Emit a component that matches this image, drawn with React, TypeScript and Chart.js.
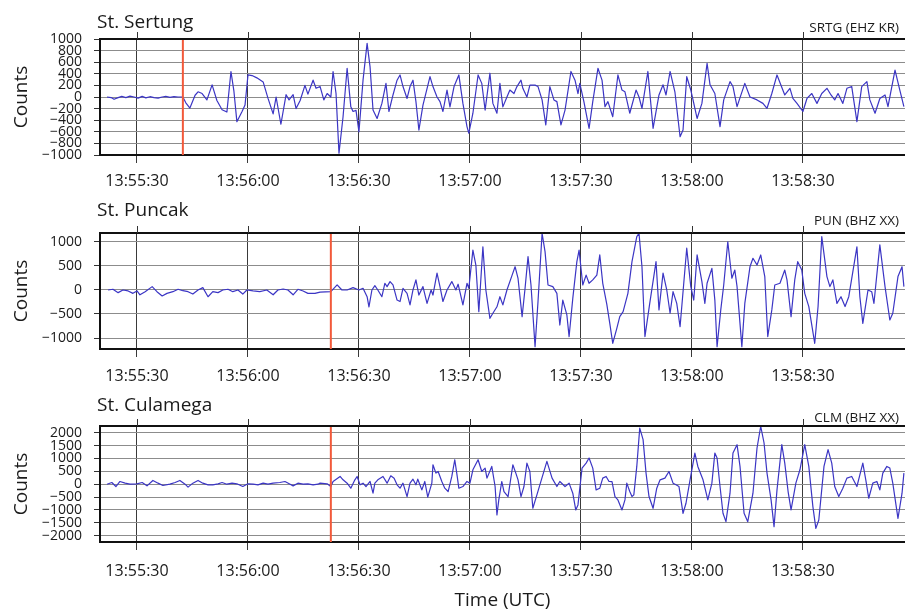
import React, { useEffect, useRef } from "react";
import { Chart, registerables } from "chart.js";

Chart.register(...registerables);

// ---- shared axis data (time in seconds after 13:55:00 UTC) ----
const X_MIN = 20;
const X_MAX = 237.6;
const X_TICKS = [30, 60, 90, 120, 150, 180, 210];
const X_TICK_LABELS = ["13:55:30", "13:56:00", "13:56:30", "13:57:00", "13:57:30", "13:58:00", "13:58:30"];

const STATIONS = ["St. Sertung", "St. Puncak", "St. Culamega"];
const CHANNELS = ["SRTG (EHZ KR)", "PUN (BHZ XX)", "CLM (BHZ XX)"];
const ARRIVALS = [42.4, 82.4, 82.4];
const Y_MIN = [-1000, -1229, -2245];
const Y_MAX = [1000, 1187, 2260];
const SRTG_Y_TICKS = [1000, 800, 600, 400, 200, 0, -200, -400, -600, -800, -1000];
const PUN_Y_TICKS = [1000, 500, 0, -500, -1000];
const CLM_Y_TICKS = [2000, 1500, 1000, 500, 0, -500, -1000, -1500, -2000];

// ---- St. Sertung ----
const SRTG_T = [21.9, 23.0, 23.8, 24.9, 25.9, 27.0, 28.1, 29.2, 30.3, 31.4, 32.4, 33.5, 34.6, 35.7, 36.8, 37.8, 38.9, 40.0, 41.1, 42.4,
  43.2, 44.3, 45.7, 46.5, 47.6, 48.9, 50.3, 51.6, 53.0, 54.3, 55.4, 56.2, 57.0, 58.4, 59.2, 60.0, 61.1, 62.4, 64.1, 65.4,
  66.8, 67.6, 68.9, 70.3, 71.1, 72.2, 73.0, 74.1, 75.4, 76.2, 77.6, 78.4, 79.5, 80.5, 81.4, 82.4, 83.0, 83.8, 84.6, 85.7,
  86.8, 87.8, 88.4, 89.2, 90.0, 91.1, 92.2, 93.0, 93.8, 94.9, 96.2, 97.3, 98.1, 99.2, 100.3, 101.1, 101.9, 103.0, 103.8, 104.6,
  105.4, 106.2, 107.3, 109.2, 110.0, 111.1, 111.9, 112.7, 113.8, 114.6, 115.7, 117.0, 118.1, 119.2, 119.7, 120.8, 122.2, 123.2, 124.1, 125.4,
  126.2, 127.3, 128.1, 128.9, 130.0, 130.8, 131.9, 132.7, 133.8, 134.3, 135.4, 136.2, 137.6, 138.4, 139.5, 140.5, 141.6, 142.7, 143.5, 144.6,
  145.7, 147.3, 148.4, 149.2, 149.7, 150.8, 152.2, 153.2, 154.6, 155.7, 156.5, 157.3, 158.6, 160.0, 161.1, 161.9, 163.2, 164.9, 165.7, 166.5,
  168.1, 169.5, 171.1, 172.2, 173.0, 174.1, 175.4, 176.8, 177.6, 178.6, 179.7, 180.3, 181.4, 182.7, 184.1, 184.9, 186.2, 187.6, 188.6, 190.3,
  191.1, 192.2, 194.3, 195.7, 197.6, 199.2, 200.3, 201.6, 203.0, 205.1, 206.5, 207.3, 208.4, 210.0, 211.1, 212.4, 213.8, 215.1, 216.5, 217.6,
  218.6, 219.5, 220.8, 221.9, 223.2, 224.6, 225.9, 227.3, 228.1, 229.5, 230.8, 232.2, 233.0, 234.9, 236.2, 237.3];
const SRTG_V = [0, -10, -40, -10, 10, -10, 15, 0, -20, 10, -15, 5, -10, -20, 0, 10, -5, 5, 0, 0,
  -100, -190, 30, 90, 60, -50, 210, -60, -220, -260, 440, 100, -425, -250, -140, 380, 370, 330, 260, -20,
  -290, 0, -470, 40, -50, 40, -200, -60, 200, 50, 290, 150, 180, -50, 60, 0, 440, 60, -970, -340,
  495, -170, -250, -230, -600, 290, 925, 520, -225, -370, -110, 235, -250, 35, 290, 380, 180, -25, 180, 290,
  -80, -570, -140, 350, 180, 0, -80, -250, 120, -170, 180, 380, -110, -510, -625, -280, 380, 235, -225, 410,
  -110, -280, 235, -170, 0, 120, 60, 180, 290, 150, 0, 205, 205, 180, -50, -480, 180, -50, -80, -480,
  -225, 440, 290, 60, 235, -80, -540, -80, 495, 290, -165, -80, -340, 380, 120, 90, -280, 120, 0, -195,
  440, -540, 35, 210, 35, 440, 90, -685, -570, 350, 120, -50, -370, -110, 580, 210, 60, -510, -50, 265,
  180, -165, 235, 0, -50, -110, -195, 60, 380, 35, 150, -25, -110, -250, -25, 60, -110, 60, 150, 35,
  -50, 60, -110, 150, 180, -425, 180, 265, -50, -280, -25, 35, -165, 465, 120, -165];

// ---- St. Puncak ----
const PUN_T = [22.2, 23.5, 24.9, 26.2, 27.6, 28.9, 30.0, 30.8, 32.2, 34.1, 35.4, 36.8, 38.1, 39.7, 41.1, 42.4, 43.8, 45.1, 46.5, 47.8,
  49.2, 50.5, 51.9, 53.2, 54.6, 55.9, 57.3, 58.6, 59.7, 61.4, 63.2, 65.1, 66.8, 68.1, 69.5, 70.8, 72.2, 73.5, 74.9, 76.2,
  78.1, 79.5, 82.4, 84.1, 85.4, 86.8, 88.4, 90.0, 91.1, 92.2, 92.7, 93.5, 94.3, 95.1, 96.2, 97.0, 97.6, 98.4, 99.2, 100.3,
  101.1, 101.9, 103.0, 103.8, 104.6, 105.4, 106.2, 107.3, 108.4, 109.5, 110.0, 111.1, 111.9, 112.7, 113.8, 115.1, 116.2, 116.8, 118.1, 119.2,
  119.7, 120.8, 121.6, 122.4, 123.5, 124.3, 125.4, 126.2, 127.3, 128.1, 128.9, 130.0, 131.4, 132.2, 133.0, 134.1, 134.9, 135.7, 136.5, 137.6,
  138.4, 139.5, 140.3, 141.1, 142.4, 143.5, 144.3, 145.1, 146.2, 146.8, 147.8, 148.9, 149.5, 150.5, 151.4, 152.2, 153.2, 154.3, 155.1, 155.9,
  157.0, 157.8, 158.6, 159.7, 160.5, 161.4, 162.7, 163.8, 165.1, 165.7, 166.5, 167.3, 168.6, 170.3, 171.1, 172.2, 173.2, 174.1, 174.9, 175.9,
  176.8, 178.6, 179.7, 180.5, 181.4, 182.7, 183.5, 184.1, 185.4, 186.2, 186.8, 187.8, 188.6, 189.7, 190.8, 191.6, 192.2, 193.5, 194.3, 195.7,
  196.5, 197.6, 198.6, 199.7, 200.5, 201.6, 202.4, 203.8, 205.1, 205.7, 206.8, 207.8, 208.6, 209.7, 210.5, 211.6, 213.2, 214.1, 215.1, 216.5,
  217.3, 218.1, 219.2, 220.3, 221.4, 222.4, 224.6, 225.4, 226.2, 227.6, 228.6, 229.2, 230.8, 232.2, 233.5, 234.3, 235.7, 236.8, 237.3];
const PUN_V = [0, 15, -55, 0, -20, -70, -20, -100, -35, 70, -35, -125, -70, -35, 15, -15, -35, -85, 0, 50,
  -140, -35, -55, 0, 15, -35, 0, -85, 0, -20, -35, 0, -100, 0, 20, 0, -100, 15, -20, -70,
  -70, -45, -35, 105, 0, 0, 50, 0, 35, -140, -350, 0, 90, 0, -140, 140, 70, 175, 105, -210,
  -240, 35, -70, -310, 0, 210, -105, 70, -280, 0, -105, 350, 70, -240, 0, 175, 0, 120, -310, 140,
  35, 830, 520, -450, 900, 0, -590, -485, -350, -140, -310, 0, 310, 485, 240, -555, 35, 695, 105, -1180,
  -240, 1180, 800, 105, 70, -70, -730, -210, -520, -970, -175, 590, 830, 105, 310, 140, 210, 310, 730, 140,
  -300, -695, -1110, -800, -555, -450, -70, 590, 1110, 1180, 485, -970, -280, 590, -415, 350, 0, -485, -35, -280,
  -765, 870, 70, -210, 730, 175, -280, 140, 450, -210, -1180, -415, 105, 1005, 245, 415, 70, -1180, -280, 485,
  660, 520, 730, 280, -970, -415, 105, 140, 415, 210, -555, 210, 590, 415, -70, -345, -1110, -345, 1110, 280,
  70, 210, -280, -140, -345, -140, 900, -140, -695, 0, -35, -280, 940, 70, -625, -485, 280, 485, 70];

// ---- St. Culamega ----
const CLM_T = [21.9, 23.2, 24.3, 25.4, 26.8, 28.1, 30.0, 31.4, 32.7, 34.3, 35.7, 37.0, 38.9, 40.3, 41.6, 43.0, 43.8, 45.1, 46.5, 47.8,
  49.2, 50.5, 51.9, 53.0, 54.3, 55.7, 57.0, 58.6, 60.0, 61.4, 62.7, 64.1, 65.4, 66.8, 68.6, 70.0, 71.4, 72.2, 73.5, 74.9,
  76.2, 77.6, 78.9, 79.5, 81.4, 82.4, 83.0, 84.9, 85.7, 86.8, 87.8, 88.9, 89.5, 90.3, 91.1, 91.9, 93.0, 93.8, 94.3, 95.1,
  96.5, 97.6, 98.6, 99.5, 100.3, 101.1, 101.9, 103.0, 103.8, 104.6, 105.4, 105.9, 107.0, 107.8, 108.6, 109.7, 110.0, 110.8, 111.4, 112.4,
  113.2, 114.1, 115.1, 115.9, 116.5, 117.0, 118.1, 119.2, 120.0, 120.8, 122.2, 123.2, 124.1, 124.6, 125.9, 126.8, 127.3, 127.8, 128.6, 129.2,
  130.3, 131.6, 132.4, 133.0, 133.8, 134.6, 135.4, 136.2, 137.0, 138.1, 138.9, 140.8, 142.2, 143.5, 144.3, 145.7, 146.8, 147.8, 148.6, 149.2,
  150.3, 151.4, 152.2, 153.2, 154.1, 155.1, 155.9, 156.8, 157.6, 158.4, 159.2, 160.0, 161.1, 161.9, 162.4, 163.2, 163.8, 164.3, 165.1, 165.9,
  166.8, 167.6, 168.4, 169.5, 170.5, 171.4, 172.7, 173.8, 174.9, 175.7, 176.5, 177.6, 178.4, 179.5, 180.8, 181.6, 183.0, 184.3, 185.4, 186.2,
  186.8, 187.6, 188.4, 189.2, 190.3, 191.1, 192.2, 193.0, 194.1, 195.1, 196.5, 197.6, 198.6, 199.5, 200.3, 201.4, 202.2, 203.0, 204.3, 205.1,
  206.0, 206.8, 208.1, 209.2, 210.5, 211.6, 212.7, 213.5, 214.3, 215.7, 216.8, 217.8, 218.6, 219.7, 220.8, 221.9, 223.2, 224.6, 225.4, 226.2,
  227.0, 227.8, 228.9, 230.0, 230.8, 231.6, 232.7, 233.5, 234.3, 235.7, 236.8, 237.3];
const CLM_V = [0, 65, -90, 105, 40, 0, 15, 65, -65, 145, 40, -50, 0, 65, 145, 0, -115, 40, 145, 40,
  -25, -25, 15, 65, 0, 40, 15, -90, 15, 0, -25, 40, 0, 40, 65, 105, 0, -65, 40, 0,
  15, -25, 0, 40, 15, -90, 105, 300, 170, 40, -155, 170, 300, -25, 40, -90, 105, -350, 40, 170,
  300, 40, 325, 235, -25, -155, 40, -480, 40, 195, -25, 195, -220, 105, -505, 40, 755, 430, 495, 105,
  -155, -285, 300, 950, 365, -155, -90, 105, 40, 560, 950, 495, 625, 235, 690, -90, -1195, -610, 105, -285,
  -480, 755, 430, 170, -480, -90, 820, 495, -935, -415, -25, 885, 235, -90, 105, -90, 40, -350, -1000, -805,
  625, 820, 1015, 625, -220, -155, 235, 300, 105, 100, -480, -610, -1000, -610, 40, -285, -480, -415, 690, 2180,
  1730, 430, -480, -935, -155, 170, 235, 495, 40, -25, -90, -1130, -740, 170, 1210, 690, 170, -610, 40, 1210,
  1015, -90, -1130, -1455, -350, 1210, 1535, 690, -1130, -1455, -350, 1405, 2250, 1600, 430, -610, -1650, -220, 1535, 820,
  -285, -1000, 40, 560, 1535, 690, -870, -1715, -1390, 690, 1340, 820, -90, -480, -155, 235, 300, -90, 365, 820,
  170, -545, 40, 105, -220, 430, 690, 625, 40, -1325, -350, 430];

const SERIES_T = [SRTG_T, PUN_T, CLM_T];
const SERIES_V = [SRTG_V, PUN_V, CLM_V];
const Y_TICKS = [SRTG_Y_TICKS, PUN_Y_TICKS, CLM_Y_TICKS];

// ---- layout (not data) ----
const FONT = "'Open Sans', 'DejaVu Sans', sans-serif";
const LAYOUT = [
  { top: 0, height: 200, padTop: 39, axisH: 45, tickPad: 9, titleBase: 28.3, chanBase: 31.7 },
  { top: 200, height: 190, padTop: 33, axisH: 41, tickPad: 10, titleBase: 16, chanBase: 25 },
  { top: 390, height: 220, padTop: 36, axisH: 68, tickPad: 12, titleBase: 20.7, chanBase: 31.7 },
];
const TRACE_COLOR = "#3b35c4";
const RED_COLOR = "#f2593a";

function fmtCount(v: number): string {
  return v < 0 ? "\u2212" + Math.abs(v) : String(v);
}

function Panel({ idx }: { idx: number }) {
  const ref = useRef<HTMLCanvasElement>(null);
  const lay = LAYOUT[idx];

  useEffect(() => {
    const canvas = ref.current;
    if (!canvas) return;
    const trace = SERIES_T[idx].map((t, i) => ({ x: t, y: SERIES_V[idx][i] }));
    const red = [
      { x: ARRIVALS[idx], y: Y_MIN[idx] },
      { x: ARRIVALS[idx], y: Y_MAX[idx] },
    ];

    const framePlugin = {
      id: "frame" + idx,
      afterDraw(chart: any) {
        const { ctx, chartArea } = chart;
        const xs = chart.scales.x;
        ctx.save();
        // top frame line
        ctx.strokeStyle = "#111";
        ctx.lineWidth = 2;
        ctx.beginPath();
        ctx.moveTo(chartArea.left - 1, chartArea.top);
        ctx.lineTo(chartArea.right, chartArea.top);
        ctx.stroke();
        // tick marks above the frame
        ctx.strokeStyle = "#333";
        ctx.lineWidth = 1;
        X_TICKS.forEach((v) => {
          const px = Math.round(xs.getPixelForValue(v)) + 0.5;
          ctx.beginPath();
          ctx.moveTo(px, chartArea.top - 7);
          ctx.lineTo(px, chartArea.top);
          ctx.stroke();
        });
        // station name and channel code
        ctx.fillStyle = "#1a1a1a";
        ctx.textBaseline = "alphabetic";
        ctx.font = `19px ${FONT}`;
        ctx.textAlign = "left";
        ctx.fillText(STATIONS[idx], 97, lay.titleBase);
        ctx.font = `13.5px ${FONT}`;
        ctx.textAlign = "right";
        ctx.fillText(CHANNELS[idx], 899, lay.chanBase);
        ctx.restore();
      },
    };

    const chart = new Chart(canvas, {
      type: "line",
      data: {
        datasets: [
          {
            data: red,
            borderColor: RED_COLOR,
            borderWidth: 2,
            pointRadius: 0,
            tension: 0,
          },
          {
            data: trace,
            borderColor: TRACE_COLOR,
            borderWidth: 1.2,
            pointRadius: 0,
            tension: 0,
            borderJoinStyle: "round",
          },
        ],
      },
      options: {
        animation: false,
        responsive: false,
        devicePixelRatio: 1,
        parsing: false,
        layout: { padding: { top: lay.padTop, left: 0, right: 0, bottom: 0 } },
        plugins: {
          legend: { display: false },
          tooltip: { enabled: false },
        },
        scales: {
          x: {
            type: "linear",
            min: X_MIN,
            max: X_MAX,
            afterBuildTicks: (s: any) => {
              s.ticks = X_TICKS.map((v) => ({ value: v }));
            },
            afterFit: (s: any) => {
              s.height = lay.axisH;
            },
            ticks: {
              autoSkip: false,
              maxRotation: 0,
              padding: lay.tickPad,
              color: "#1a1a1a",
              font: { family: FONT, size: 16 },
              callback: (_v: any, i: number) => X_TICK_LABELS[i],
            },
            grid: { color: "#3a3a3a", lineWidth: 1, drawTicks: true, tickLength: 8 },
            border: { display: true, color: "#111", width: 2 },
            title: {
              display: idx === 2,
              text: "Time (UTC)",
              color: "#1a1a1a",
              font: { family: FONT, size: 19, lineHeight: 1 },
              padding: { top: 0, bottom: 0 },
            },
          },
          y: {
            type: "linear",
            min: Y_MIN[idx],
            max: Y_MAX[idx],
            afterBuildTicks: (s: any) => {
              s.ticks = Y_TICKS[idx].map((v) => ({ value: v }));
            },
            afterFit: (s: any) => {
              s.width = 100;
            },
            ticks: {
              autoSkip: false,
              padding: 12,
              color: "#1a1a1a",
              font: { family: FONT, size: 14 },
              callback: (v: any) => fmtCount(Number(v)),
            },
            grid: { color: "#8c8c8c", tickColor: "#333", lineWidth: 1, drawTicks: true, tickLength: 6 },
            border: { display: true, color: "#111", width: 2 },
            title: {
              display: true,
              text: "Counts",
              color: "#1a1a1a",
              font: { family: FONT, size: 19, lineHeight: 1.2 },
              padding: { top: 10.6, bottom: 0 },
            },
          },
        },
      },
      plugins: [framePlugin],
    } as any);
    return () => chart.destroy();
  }, [idx]);

  return (
    <canvas
      ref={ref}
      width={905}
      height={lay.height}
      style={{ position: "absolute", left: 0, top: lay.top, width: 905, height: lay.height }}
    />
  );
}

export default function App() {
  return (
    <div
      style={{
        position: "fixed",
        left: 0,
        top: 0,
        width: 905,
        height: 610,
        background: "#ffffff",
        overflow: "hidden",
      }}
    >
      <Panel idx={0} />
      <Panel idx={1} />
      <Panel idx={2} />
    </div>
  );
}
